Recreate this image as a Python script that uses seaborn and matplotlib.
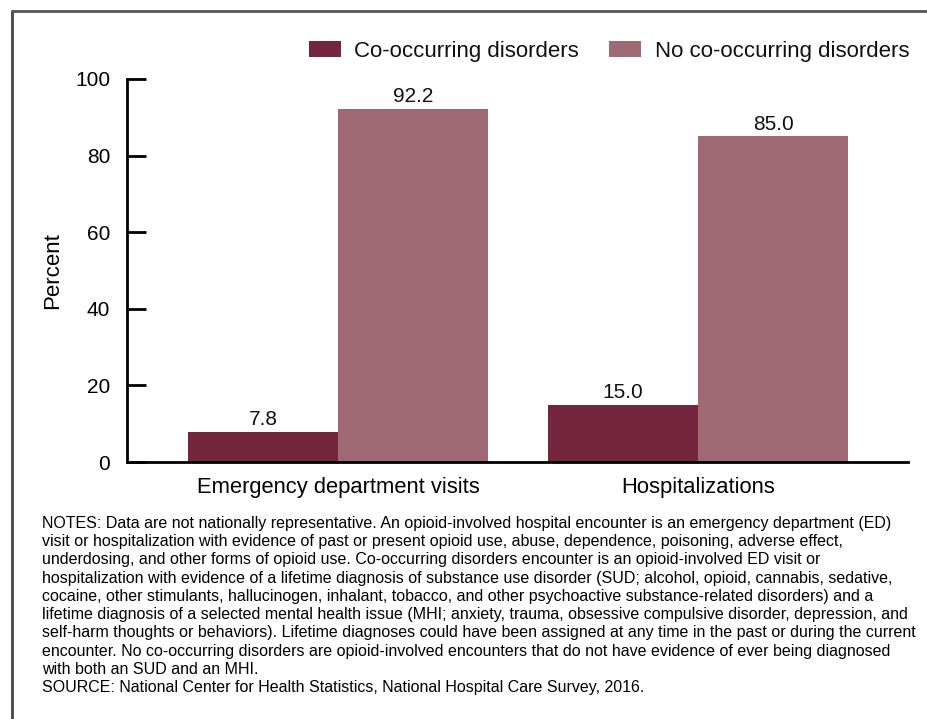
import matplotlib
matplotlib.use("Agg")
import matplotlib.pyplot as plt
import seaborn as sns
import pandas as pd
from matplotlib.lines import Line2D
from matplotlib.patches import Patch

categories = ["Emergency department visits", "Hospitalizations"]
series = ["Co-occurring disorders", "No co-occurring disorders"]
co_occurring = [7.8, 15.0]
no_co_occurring = [92.2, 85.0]
y_ticks = [0, 20, 40, 60, 80, 100]
colors = ["#74263E", "#9E6875"]

notes = (
    "NOTES: Data are not nationally representative. An opioid-involved hospital encounter is an emergency department (ED)\n"
    "visit or hospitalization with evidence of past or present opioid use, abuse, dependence, poisoning, adverse effect,\n"
    "underdosing, and other forms of opioid use. Co-occurring disorders encounter is an opioid-involved ED visit or\n"
    "hospitalization with evidence of a lifetime diagnosis of substance use disorder (SUD; alcohol, opioid, cannabis, sedative,\n"
    "cocaine, other stimulants, hallucinogen, inhalant, tobacco, and other psychoactive substance-related disorders) and a\n"
    "lifetime diagnosis of a selected mental health issue (MHI; anxiety, trauma, obsessive compulsive disorder, depression, and\n"
    "self-harm thoughts or behaviors). Lifetime diagnoses could have been assigned at any time in the past or during the current\n"
    "encounter. No co-occurring disorders are opioid-involved encounters that do not have evidence of ever being diagnosed\n"
    "with both an SUD and an MHI.\n"
    "SOURCE: National Center for Health Statistics, National Hospital Care Survey, 2016."
)

df = pd.DataFrame({
    "category": categories * 2,
    "series": [series[0]] * 2 + [series[1]] * 2,
    "value": co_occurring + no_co_occurring,
})

sns.set_theme(style="white")
plt.rcParams["font.family"] = ["Liberation Sans", "DejaVu Sans"]

W, H = 927, 719
fig = plt.figure(figsize=(W / 100, H / 100), dpi=100)
ax = fig.add_axes([127 / W, 1 - 462 / H, (908 - 127) / W, (462 - 79) / H])

sns.barplot(data=df, x="category", y="value", hue="series", order=categories,
            hue_order=series, palette=colors, width=0.8333, saturation=1,
            linewidth=0, ax=ax, legend=False)

for cont in ax.containers:
    ax.bar_label(cont, fmt="%.1f", padding=2, fontsize=15, color="#111111")

ax.set_xlim(-0.586, 1.583)
ax.set_ylim(0, 100)
ax.set_yticks(y_ticks)
ax.tick_params(axis="y", direction="in", length=14, width=2, labelsize=15,
               pad=12, left=True, colors="black")
ax.tick_params(axis="x", length=0, labelsize=15.8, pad=11, colors="black")
ax.set_xlabel("")
ax.set_ylabel("Percent", fontsize=16, labelpad=9, color="black")
for s in ["top", "right"]:
    ax.spines[s].set_visible(False)
for s in ["left", "bottom"]:
    ax.spines[s].set_linewidth(2)
    ax.spines[s].set_color("black")

handles = [Patch(facecolor=c, edgecolor="none") for c in colors]
fig.legend(handles, series, loc="upper right", bbox_to_anchor=(918 / W, 1 - 32 / H),
           ncol=2, frameon=False, fontsize=16, handlelength=1.45,
           handleheight=0.75, handletextpad=0.6, columnspacing=1.35,
           borderaxespad=0, labelcolor="#111111")

fig.text(42 / W, 1 - 516 / H, notes, ha="left", va="top", fontsize=11.5,
         linespacing=1.27, color="black")

fig.add_artist(Line2D([12 / W, 12 / W], [0, 1 - 11 / H], transform=fig.transFigure,
                      color="#444444", lw=2))
fig.add_artist(Line2D([12 / W, 1], [1 - 11 / H, 1 - 11 / H], transform=fig.transFigure,
                      color="#555555", lw=2))

fig.savefig("out.png", dpi=100)
